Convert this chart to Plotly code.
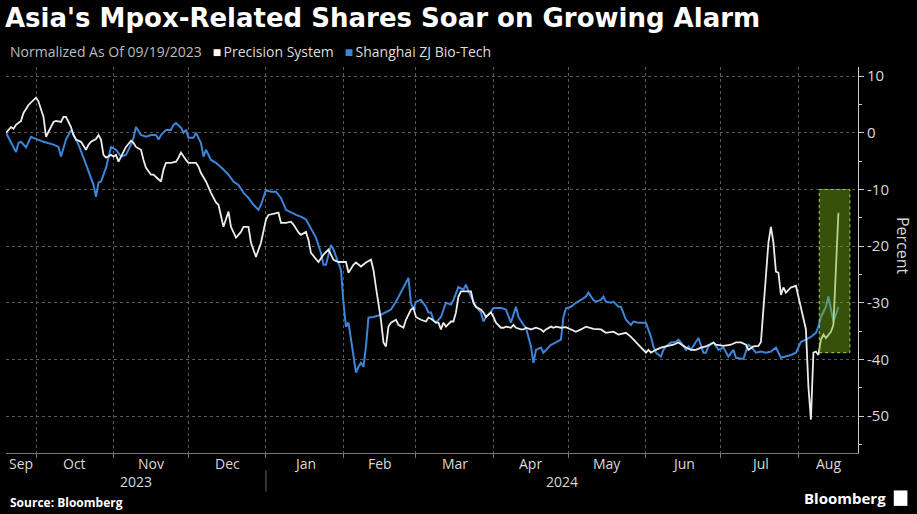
import plotly.graph_objects as go
import pandas as pd

# ---------------- data ----------------
ps_dates = [
    "2023-09-19","2023-09-21","2023-09-22","2023-09-23","2023-09-25","2023-09-26","2023-09-28","2023-09-30","2023-10-01","2023-10-02",
    "2023-10-04","2023-10-05","2023-10-07","2023-10-08","2023-10-09","2023-10-11","2023-10-12","2023-10-13","2023-10-14","2023-10-15",
    "2023-10-16","2023-10-17","2023-10-19","2023-10-21","2023-10-22","2023-10-23","2023-10-25","2023-10-26","2023-10-27","2023-10-28",
    "2023-10-29","2023-10-31","2023-11-01","2023-11-02","2023-11-03","2023-11-05","2023-11-06","2023-11-08","2023-11-09","2023-11-10",
    "2023-11-12","2023-11-13","2023-11-14","2023-11-16","2023-11-17","2023-11-18","2023-11-20","2023-11-21","2023-11-22","2023-11-24",
    "2023-11-26","2023-11-27","2023-11-28","2023-11-30","2023-12-01","2023-12-04","2023-12-05","2023-12-06","2023-12-08","2023-12-10",
    "2023-12-12","2023-12-13","2023-12-15","2023-12-17","2023-12-18","2023-12-20","2023-12-22","2023-12-23","2023-12-25","2023-12-26",
    "2023-12-28","2023-12-30","2024-01-01","2024-01-02","2024-01-05","2024-01-06","2024-01-07","2024-01-09","2024-01-11","2024-01-12",
    "2024-01-14","2024-01-15","2024-01-17","2024-01-18","2024-01-19","2024-01-21","2024-01-22","2024-01-24","2024-01-26","2024-01-28",
    "2024-01-30","2024-02-02","2024-02-03","2024-02-05","2024-02-06","2024-02-08","2024-02-10","2024-02-12","2024-02-13","2024-02-14",
    "2024-02-16","2024-02-17","2024-02-18","2024-02-19","2024-02-20","2024-02-22","2024-02-23","2024-02-25","2024-02-26","2024-02-28",
    "2024-02-29","2024-03-01","2024-03-03","2024-03-05","2024-03-06","2024-03-07","2024-03-09","2024-03-10","2024-03-11","2024-03-12",
    "2024-03-13","2024-03-15","2024-03-16","2024-03-17","2024-03-18","2024-03-19","2024-03-21","2024-03-23","2024-03-24","2024-03-25",
    "2024-03-27","2024-03-28","2024-03-29","2024-03-31","2024-04-01","2024-04-02","2024-04-04","2024-04-05","2024-04-06","2024-04-08",
    "2024-04-09","2024-04-10","2024-04-12","2024-04-13","2024-04-14","2024-04-16","2024-04-18","2024-04-20","2024-04-21","2024-04-22",
    "2024-04-24","2024-04-25","2024-04-26","2024-04-28","2024-04-30","2024-05-02","2024-05-04","2024-05-06","2024-05-08","2024-05-11",
    "2024-05-14","2024-05-16","2024-05-19","2024-05-21","2024-05-24","2024-05-26","2024-05-28","2024-05-30","2024-06-01","2024-06-02",
    "2024-06-03","2024-06-05","2024-06-07","2024-06-09","2024-06-12","2024-06-14","2024-06-16","2024-06-17","2024-06-19","2024-06-21",
    "2024-06-23","2024-06-25","2024-06-28","2024-06-29","2024-07-02","2024-07-05","2024-07-07","2024-07-09","2024-07-11","2024-07-12",
    "2024-07-14","2024-07-16","2024-07-17","2024-07-19","2024-07-20","2024-07-21","2024-07-22","2024-07-23","2024-07-24","2024-07-25",
    "2024-07-26","2024-07-27","2024-07-29","2024-07-31","2024-08-01","2024-08-03","2024-08-04","2024-08-05","2024-08-06","2024-08-07",
    "2024-08-08","2024-08-09","2024-08-10","2024-08-11","2024-08-12","2024-08-14","2024-08-15","2024-08-17",
]
ps_values = [
    0, 1.0, 0.7, 1.4, 2.1, 3.5, 4.9, 5.8, 6.2, 5.5,
    2.8, -0.7, 0.9, 1.9, 2.1, 1.9, 2.8, 2.8, 1.9, 1.0,
    -0.4, -1.2, -1.6, -3.0, -2.1, -1.6, -1.1, -0.4, -1.2, -3.9,
    -4.4, -3.9, -4.2, -3.9, -5.1, -3.4, -2.5, -1.4, -1.8, -2.5,
    -3.0, -4.8, -6.2, -7.4, -7.4, -7.8, -8.6, -6.5, -5.3, -5.3,
    -5.1, -4.4, -3.5, -4.8, -5.3, -5.3, -6.0, -7.1, -8.6, -10.6,
    -12.3, -12.7, -16.6, -13.9, -16.6, -18.5, -17.5, -16.6, -16.6, -19.4,
    -21.9, -19.4, -15.3, -14.5, -14.3, -14.1, -15.9, -15.9, -15.7, -16.2,
    -17.6, -18.0, -17.5, -18.9, -21.2, -22.4, -22.8, -21.5, -20.6, -22.4,
    -22.8, -22.8, -24.7, -23.3, -22.9, -23.6, -22.9, -22.4, -24.2, -27.3,
    -33.0, -37.0, -37.7, -34.2, -33.5, -33.0, -33.9, -34.4, -33.0, -31.2,
    -30.9, -32.5, -33.0, -33.3, -32.6, -32.8, -33.5, -33.5, -34.7, -33.5,
    -34.2, -33.3, -33.3, -31.7, -28.9, -28.0, -28.0, -28.0, -30.0, -30.7,
    -31.2, -31.7, -32.5, -31.7, -32.5, -33.5, -34.4, -34.4, -34.2, -34.4,
    -33.9, -34.4, -34.7, -34.7, -34.4, -34.7, -34.4, -34.7, -35.1, -34.7,
    -34.2, -34.4, -34.2, -34.4, -34.3, -34.7, -35.1, -34.7, -34.2, -34.6,
    -34.7, -35.3, -35.1, -35.6, -35.3, -36.0, -36.9, -37.9, -38.8, -38.3,
    -38.8, -38.3, -37.9, -37.7, -37.4, -37.0, -37.7, -37.9, -38.3, -38.3,
    -37.9, -37.7, -37.0, -37.4, -37.6, -37.4, -37.0, -37.0, -37.4, -38.3,
    -37.7, -37.6, -36.9, -25.9, -19.4, -16.6, -19.4, -24.5, -24.7, -28.6,
    -27.3, -28.2, -27.3, -27.0, -28.9, -32.5, -34.7, -44.8, -50.6, -38.8,
    -38.6, -39.2, -36.5, -35.6, -36.2, -35.1, -33.9, -14.1,
]

zj_dates = [
    "2023-09-19","2023-09-21","2023-09-23","2023-09-24","2023-09-25","2023-09-27","2023-09-29","2023-09-30","2023-10-04","2023-10-08",
    "2023-10-10","2023-10-11","2023-10-13","2023-10-15","2023-10-16","2023-10-18","2023-10-20","2023-10-22","2023-10-24","2023-10-25",
    "2023-10-26","2023-10-27","2023-10-29","2023-10-31","2023-11-02","2023-11-04","2023-11-06","2023-11-08","2023-11-09","2023-11-10",
    "2023-11-12","2023-11-14","2023-11-16","2023-11-18","2023-11-19","2023-11-20","2023-11-22","2023-11-24","2023-11-25","2023-11-26",
    "2023-11-28","2023-11-29","2023-11-30","2023-12-01","2023-12-03","2023-12-04","2023-12-06","2023-12-07","2023-12-08","2023-12-10",
    "2023-12-12","2023-12-15","2023-12-17","2023-12-19","2023-12-21","2023-12-23","2023-12-25","2023-12-27","2023-12-29","2023-12-30",
    "2024-01-01","2024-01-03","2024-01-05","2024-01-07","2024-01-09","2024-01-13","2024-01-15","2024-01-17","2024-01-19","2024-01-21",
    "2024-01-23","2024-01-24","2024-01-25","2024-01-27","2024-01-28","2024-01-29","2024-01-31","2024-02-01","2024-02-02","2024-02-03",
    "2024-02-04","2024-02-06","2024-02-07","2024-02-08","2024-02-09","2024-02-10","2024-02-11","2024-02-13","2024-02-16","2024-02-18",
    "2024-02-20","2024-02-22","2024-02-24","2024-02-26","2024-02-27","2024-02-28","2024-02-29","2024-03-01","2024-03-03","2024-03-05",
    "2024-03-06","2024-03-07","2024-03-08","2024-03-09","2024-03-11","2024-03-13","2024-03-15","2024-03-16","2024-03-17","2024-03-18",
    "2024-03-20","2024-03-21","2024-03-22","2024-03-24","2024-03-25","2024-03-27","2024-03-28","2024-03-29","2024-03-31","2024-04-01",
    "2024-04-04","2024-04-06","2024-04-08","2024-04-10","2024-04-11","2024-04-13","2024-04-14","2024-04-16","2024-04-17","2024-04-18",
    "2024-04-20","2024-04-21","2024-04-22","2024-04-24","2024-04-26","2024-04-28","2024-04-29","2024-04-30","2024-05-02","2024-05-04",
    "2024-05-06","2024-05-08","2024-05-09","2024-05-11","2024-05-12","2024-05-14","2024-05-15","2024-05-16","2024-05-18","2024-05-19",
    "2024-05-21","2024-05-22","2024-05-24","2024-05-26","2024-05-27","2024-05-29","2024-05-31","2024-06-01","2024-06-03","2024-06-04",
    "2024-06-05","2024-06-07","2024-06-08","2024-06-09","2024-06-11","2024-06-13","2024-06-14","2024-06-15","2024-06-17","2024-06-18",
    "2024-06-19","2024-06-21","2024-06-22","2024-06-24","2024-06-25","2024-06-26","2024-06-28","2024-06-30","2024-07-02","2024-07-04",
    "2024-07-06","2024-07-07","2024-07-10","2024-07-11","2024-07-12","2024-07-13","2024-07-15","2024-07-17","2024-07-19","2024-07-21",
    "2024-07-23","2024-07-25","2024-07-27","2024-07-29","2024-07-31","2024-08-01","2024-08-02","2024-08-04","2024-08-06","2024-08-08",
    "2024-08-09","2024-08-10","2024-08-12","2024-08-13","2024-08-14","2024-08-15","2024-08-16","2024-08-17",
]
zj_values = [
    0, -1.8, -3.4, -1.8, -1.6, -2.6, -0.7, -0.9, -1.6, -2.1,
    -2.5, -4.2, -1.2, 0.5, -0.4, -2.1, -4.4, -6.9, -9.2, -11.3,
    -8.8, -8.6, -6.2, -2.5, -3.0, -4.2, -3.9, -2.1, -0.9, 1.0,
    -0.4, -0.7, -0.4, -0.4, -1.2, -0.4, 0.5, 0.5, 1.4, 1.7,
    0.9, 0.0, 0.5, -0.9, -0.9, 0.0, -1.8, -4.2, -3.0, -4.8,
    -5.3, -6.5, -7.4, -8.6, -9.2, -10.6, -11.5, -12.7, -13.6, -12.7,
    -10.1, -10.4, -10.4, -11.5, -13.6, -14.5, -14.8, -15.3, -16.8, -18.5,
    -21.2, -23.3, -23.3, -19.8, -20.6, -21.9, -24.2, -30.0, -34.2, -33.5,
    -36.5, -42.3, -41.3, -40.6, -41.3, -37.7, -32.6, -32.5, -32.1, -31.7,
    -31.2, -29.8, -28.0, -26.5, -25.6, -30.0, -31.2, -29.8, -29.5, -30.7,
    -31.7, -31.7, -33.0, -33.5, -32.5, -30.0, -30.3, -29.5, -28.2, -27.2,
    -27.7, -26.8, -28.0, -30.0, -30.7, -31.7, -33.3, -32.5, -31.6, -30.9,
    -30.9, -31.2, -33.5, -30.7, -32.5, -33.9, -34.4, -37.7, -40.6, -38.3,
    -37.9, -38.8, -38.3, -37.4, -37.0, -36.5, -32.5, -31.0, -30.7, -30.0,
    -29.5, -28.9, -28.2, -29.5, -29.8, -29.5, -28.9, -29.8, -30.0, -29.8,
    -30.7, -30.7, -33.0, -33.9, -33.3, -33.5, -33.5, -33.5, -36.0, -37.7,
    -38.8, -39.5, -38.3, -37.7, -37.0, -36.9, -36.5, -37.0, -38.3, -37.7,
    -38.3, -36.9, -36.2, -38.8, -38.8, -37.7, -37.0, -38.3, -37.9, -39.5,
    -38.3, -39.7, -39.9, -38.6, -37.4, -37.7, -38.8, -38.6, -38.8, -38.6,
    -37.9, -39.7, -39.5, -39.2, -38.8, -37.9, -36.9, -36.5, -36.0, -35.3,
    -34.2, -32.5, -30.7, -28.9, -31.2, -33.3, -32.1, -30.7,
]

month_labels = ["Sep", "Oct", "Nov", "Dec", "Jan", "Feb", "Mar", "Apr", "May", "Jun", "Jul", "Aug"]
year_labels = ["2023", "2024"]
y_ticks = [10, 0, -10, -20, -30, -40, -50]
highlight_x = ["2024-08-09 08:00", "2024-08-21 14:00"]
highlight_y = [-38.8, -10.0]

# ---------------- styling ----------------
BG = "#000000"
WHITE_LINE = "#ececec"
BLUE_LINE = "#3d85d8"
GRID = "#5a5a5a"
TXT = "#d9d9d9"
FONT = "Open Sans"

x_start = pd.Timestamp("2023-09-19")
x_end = pd.Timestamp("2024-08-24 20:00")

fig = go.Figure()
fig.add_trace(go.Scatter(x=zj_dates, y=zj_values, mode="lines", name="Shanghai ZJ Bio-Tech",
                         line=dict(color=BLUE_LINE, width=2)))
fig.add_trace(go.Scatter(x=ps_dates, y=ps_values, mode="lines", name="Precision System",
                         line=dict(color=WHITE_LINE, width=1.8)))

# month grid / ticks
month_starts = pd.date_range("2023-09-01", "2024-08-01", freq="MS")
grid_vals = [m for m in month_starts if x_start < m < x_end]

annotations = []
for lbl, m in zip(month_labels, month_starts):
    nxt = m + pd.offsets.MonthBegin(1)
    s = max(m, x_start)
    e = min(nxt, x_end)
    mid = s + (e - s) / 2
    annotations.append(dict(x=mid, y=-0.026, xref="x", yref="paper", text=lbl, showarrow=False,
                            xanchor="center", yanchor="middle", font=dict(family=FONT, size=14, color=TXT)))

year_bounds = [(x_start, pd.Timestamp("2024-01-01")), (pd.Timestamp("2024-01-01"), x_end)]
for lbl, (s, e) in zip(year_labels, year_bounds):
    mid = s + (e - s) / 2
    annotations.append(dict(x=mid, y=-0.073, xref="x", yref="paper", text=lbl, showarrow=False,
                            xanchor="center", yanchor="middle", font=dict(family=FONT, size=14, color=TXT)))

annotations += [
    dict(x=0.002, y=1.04, xref="paper", yref="paper", xanchor="left", yanchor="middle", showarrow=False,
         text=("<span style='color:#bdbdbd'>Normalized As Of 09/19/2023</span>&nbsp;&nbsp;&nbsp;"
               "<span style='color:#ffffff'>■</span>\u2009<span style='color:#dddddd'>Precision System</span>&nbsp;&nbsp;&nbsp;"
               f"<span style='color:{BLUE_LINE}'>■</span>\u2009<span style='color:#dddddd'>Shanghai ZJ Bio-Tech</span>"),
         font=dict(family=FONT, size=14, color=TXT)),
    dict(x=1.053, y=-20, xref="paper", yref="y", text="Percent", textangle=90, showarrow=False,
         xanchor="center", yanchor="middle", font=dict(family=FONT, size=16, color=TXT)),
    dict(x=0.002, y=-0.127, xref="paper", yref="paper", text="<b>Source: Bloomberg</b>", showarrow=False,
         xanchor="left", yanchor="middle", font=dict(family=FONT, size=12, color="#ffffff")),
    dict(x=1.035, y=-0.117, xref="paper", yref="paper", text="<b>Bloomberg</b>", showarrow=False,
         xanchor="right", yanchor="middle", font=dict(family=FONT, size=15, color="#ffffff")),
]

shapes = [
    dict(type="rect", xref="x", yref="y", x0=highlight_x[0], x1=highlight_x[1],
         y0=highlight_y[0], y1=highlight_y[1], layer="above",
         fillcolor="rgba(120,180,20,0.45)", line=dict(color="#a6d94a", width=1, dash="dot")),
    dict(type="line", xref="x", yref="paper", x0="2024-01-01", x1="2024-01-01", y0=-0.045, y1=-0.1,
         line=dict(color="#666666", width=1)),
    dict(type="rect", xref="paper", yref="paper", x0=1.042, x1=1.058, y0=-0.137, y1=-0.097,
         fillcolor="#ffffff", line=dict(width=0)),
]

fig.update_layout(
    width=917, height=514,
    paper_bgcolor=BG, plot_bgcolor=BG,
    margin=dict(l=6, r=59, t=67, b=61),
    showlegend=False,
    title=dict(text="<b>Asia's Mpox-Related Shares Soar on Growing Alarm</b>",
               x=5 / 917, xanchor="left", xref="container",
               y=1 - 18 / 514, yanchor="middle", yref="container",
               font=dict(family="DejaVu Sans", size=26, color="#ffffff")),
    annotations=annotations,
    shapes=shapes,
    xaxis=dict(
        type="date", range=[x_start, x_end],
        tickvals=grid_vals, showticklabels=False,
        ticks="outside", ticklen=4, tickcolor="#777777",
        showline=True, linecolor="#777777", linewidth=1,
        showgrid=True, gridcolor=GRID, griddash="dot", gridwidth=1,
        zeroline=False, fixedrange=True,
    ),
    yaxis=dict(
        side="right", range=[-56.5, 11.6],
        tickvals=y_ticks, ticktext=[str(v) for v in y_ticks],
        ticks="outside", ticklen=5, tickcolor="#cccccc",
        tickfont=dict(family=FONT, size=15, color=TXT),
        showline=True, linecolor="#cccccc", linewidth=1,
        showgrid=True, gridcolor=GRID, griddash="dot", gridwidth=1,
        zeroline=False,
        minor=dict(tickvals=[5, -5, -15, -25, -35, -45, -55], ticks="outside", ticklen=3,
                   tickcolor="#cccccc", showgrid=False),
    ),
)

fig.write_html(
    "out.html",
    config={"displayModeBar": False},
    post_script="document.body.style.margin='0';document.body.style.background='#000';",
)
